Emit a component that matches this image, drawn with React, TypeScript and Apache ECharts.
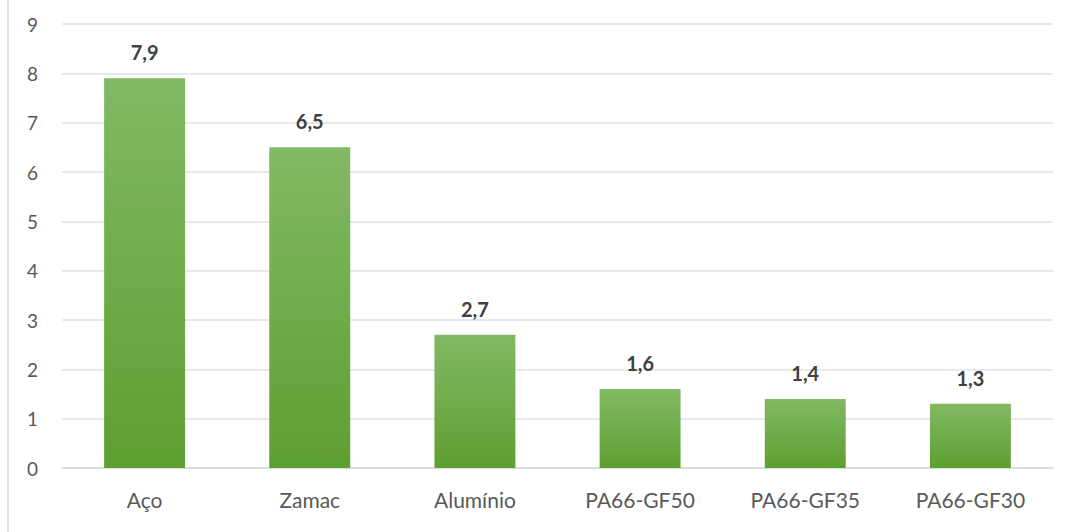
import React, { useEffect, useRef } from "react";
import * as echarts from "echarts";

const categories = ["Aço", "Zamac", "Alumínio", "PA66-GF50", "PA66-GF35", "PA66-GF30"];
const values = [7.9, 6.5, 2.7, 1.6, 1.4, 1.3];
const yTicks = [0, 1, 2, 3, 4, 5, 6, 7, 8, 9];

const FONT = "Lato, 'Open Sans', sans-serif";

export default function App() {
  const ref = useRef<HTMLDivElement>(null);
  useEffect(() => {
    if (!ref.current) return;
    const chart = echarts.init(ref.current, null, { renderer: "svg" });
    chart.setOption({
      animation: false,
      backgroundColor: "#ffffff",
      grid: { left: 62, right: 18, top: 24, bottom: 64, containLabel: false },
      xAxis: {
        type: "category",
        data: categories,
        axisLine: { show: true, lineStyle: { color: "#d9d9d9", width: 1.5 } },
        axisTick: { show: false },
        axisLabel: { color: "#595959", fontSize: 21, fontFamily: FONT, margin: 21 },
      },
      yAxis: {
        type: "value",
        min: yTicks[0],
        max: yTicks[yTicks.length - 1],
        interval: 1,
        axisLine: { show: false },
        axisTick: { show: false },
        splitLine: { lineStyle: { color: "#dfe2e6", width: 1.5 } },
        axisLabel: { color: "#595959", fontSize: 19, fontFamily: FONT, margin: 24 },
      },
      graphic: [
        {
          type: "line",
          shape: { x1: 8, y1: 0, x2: 8, y2: 532 },
          style: { stroke: "#d9d9d9", lineWidth: 1.5 },
        },
      ],
      series: [
        {
          type: "bar",
          data: values,
          barWidth: "49%",
          itemStyle: {
            color: new echarts.graphic.LinearGradient(0, 0, 0, 1, [
              { offset: 0, color: "#82b964" },
              { offset: 1, color: "#5e9f31" },
            ]),
          },
          label: {
            show: true,
            position: "top",
            distance: 16,
            color: "#404040",
            fontSize: 20,
            fontWeight: "bold",
            fontFamily: FONT,
            formatter: (p: any) => String(p.value).replace(".", ","),
          },
        },
      ],
    });
    return () => chart.dispose();
  }, []);
  return (
    <div
      ref={ref}
      style={{ position: "fixed", left: 0, top: 0, width: 1071, height: 532 }}
    />
  );
}
